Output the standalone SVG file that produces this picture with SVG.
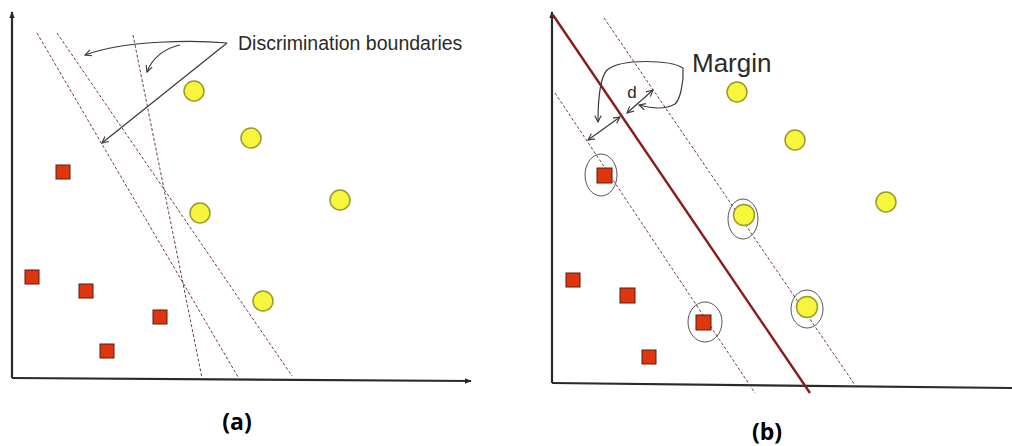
<svg xmlns="http://www.w3.org/2000/svg" width="1012" height="446" viewBox="0 0 1012 446">
<style>
.axis{stroke:#2a2a2a;stroke-width:2.2;fill:none}
.bnd{stroke:#7a3a3a;stroke-width:1;stroke-dasharray:3 2;fill:none}
.main{stroke:#8b1c1c;stroke-width:2.4;fill:none}
.ann{stroke:#3a3a3a;stroke-width:1.2;fill:none}
.yc{fill:#f7f53c;stroke:#9a9a2a;stroke-width:1.5}
.rs{fill:#e0360f;stroke:#5a1a0a;stroke-width:1}
.ring{fill:none;stroke:#555;stroke-width:1}
.lbl{font-family:"Liberation Sans",Arial,sans-serif;fill:#2a2a2a}
.cap{font-family:"Open Sans","Liberation Sans",sans-serif;font-weight:bold;fill:#000;font-size:23px;text-anchor:middle}
</style>
<defs>
<marker id="ah" viewBox="0 0 10 10" refX="9" refY="5" markerWidth="8" markerHeight="8" markerUnits="userSpaceOnUse" orient="auto-start-reverse">
<path d="M1,1 L9,5 L1,9" fill="none" stroke="#3a3a3a" stroke-width="1.4"/>
</marker>
<marker id="axh" viewBox="0 0 10 10" refX="9" refY="5" markerWidth="7" markerHeight="7" markerUnits="userSpaceOnUse" orient="auto">
<path d="M0,1 L10,5 L0,9 Z" fill="#2a2a2a"/>
</marker>
</defs>
<rect width="1012" height="446" fill="#fff"/>

<g id="axes">
<line class="axis" x1="12" y1="378" x2="12" y2="12" marker-end="url(#axh)"/>
<line class="axis" x1="12" y1="378" x2="471" y2="381" marker-end="url(#axh)"/>
<line class="axis" x1="552" y1="383" x2="552" y2="12" marker-end="url(#axh)"/>
<line class="axis" x1="552" y1="383" x2="1012" y2="388"/>
</g>

<g id="connectors">
<line class="bnd" x1="37" y1="33" x2="238" y2="377"/>
<line class="bnd" x1="57" y1="33" x2="292" y2="376"/>
<line class="bnd" x1="133" y1="35" x2="202" y2="378"/>
<path class="ann" d="M227,43 C195,40 125,40 85,55" marker-end="url(#ah)"/>
<path class="ann" d="M180,45 C165,48 152,58 147,72" marker-end="url(#ah)"/>
<path class="ann" d="M227,43 L102,143" marker-end="url(#ah)"/>

<line class="main" x1="553" y1="15" x2="810" y2="393"/>
<line class="bnd" x1="555" y1="93" x2="755" y2="393"/>
<line class="bnd" x1="604" y1="18" x2="855" y2="385"/>
<path class="ann" d="M683,68 C670,60 622,58 607,70 C600,78 598,100 598,122" marker-end="url(#ah)"/>
<path class="ann" d="M683,68 C684,82 680,100 675,104 C665,110 650,108 639,105" marker-end="url(#ah)"/>
<line class="ann" x1="588" y1="140" x2="620" y2="117" marker-start="url(#ah)" marker-end="url(#ah)"/>
<line class="ann" x1="627" y1="113" x2="653" y2="90" marker-start="url(#ah)" marker-end="url(#ah)"/>
</g>

<g id="label-boundaries"><text class="lbl" x="238" y="50" font-size="19.5">Discrimination boundaries</text></g>
<g id="label-margin"><text class="lbl" x="692" y="72" font-size="26">Margin</text></g>
<g id="label-d"><text class="lbl" x="632" y="98" font-size="17" text-anchor="middle" fill="#555">d</text></g>

<g id="a-y1"><circle class="yc" cx="194" cy="91" r="10"/></g>
<g id="a-y2"><circle class="yc" cx="251" cy="138" r="10"/></g>
<g id="a-y3"><circle class="yc" cx="340" cy="200" r="10"/></g>
<g id="a-y4"><circle class="yc" cx="200" cy="213" r="10"/></g>
<g id="a-y5"><circle class="yc" cx="263" cy="301" r="10"/></g>
<g id="a-r1"><rect class="rs" x="56" y="165" width="14" height="14"/></g>
<g id="a-r2"><rect class="rs" x="25" y="270" width="14" height="14"/></g>
<g id="a-r3"><rect class="rs" x="79" y="284" width="14" height="14"/></g>
<g id="a-r4"><rect class="rs" x="153" y="310" width="14" height="14"/></g>
<g id="a-r5"><rect class="rs" x="100" y="344" width="14" height="14"/></g>

<g id="b-y1"><circle class="yc" cx="737" cy="92" r="10"/></g>
<g id="b-y2"><circle class="yc" cx="795" cy="140" r="10"/></g>
<g id="b-y3"><circle class="yc" cx="886" cy="202" r="10"/></g>
<g id="b-y4"><circle class="yc" cx="744" cy="215" r="10.5"/><ellipse class="ring" cx="743" cy="219" rx="15" ry="20"/></g>
<g id="b-y5"><circle class="yc" cx="807" cy="307" r="10.5"/><ellipse class="ring" cx="807" cy="309" rx="16" ry="19"/></g>
<g id="b-r1"><rect class="rs" x="597" y="168" width="15" height="15"/><ellipse class="ring" cx="601" cy="175" rx="16" ry="21"/></g>
<g id="b-r2"><rect class="rs" x="566" y="273" width="14" height="14"/></g>
<g id="b-r3"><rect class="rs" x="620" y="288" width="15" height="15"/></g>
<g id="b-r4"><rect class="rs" x="696" y="315" width="15" height="15"/><ellipse class="ring" cx="705" cy="322" rx="17" ry="20"/></g>
<g id="b-r5"><rect class="rs" x="642" y="350" width="14" height="14"/></g>

<g id="caption-a"><text class="cap" x="237" y="430">(a)</text></g>
<g id="caption-b"><text class="cap" x="767" y="440">(b)</text></g>
</svg>
